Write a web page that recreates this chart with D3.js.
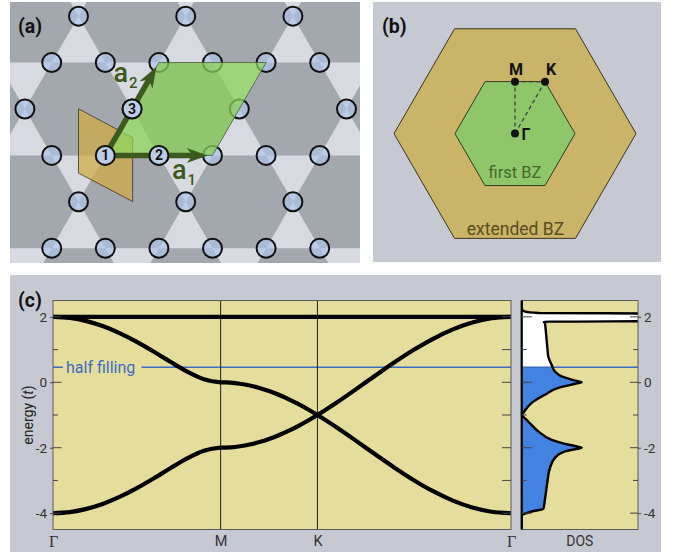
<!DOCTYPE html>
<html><head><meta charset="utf-8">
<script src="https://cdn.jsdelivr.net/npm/d3@7"></script>
<style>
body{margin:0;background:#fff;}
svg{display:block;font-family:Roboto,"DejaVu Sans",sans-serif;}
</style>
</head><body>
<svg id="fig" width="678" height="552"></svg>
<script>
// ---------------- DATA ----------------
// k-path for band structure (Γ–M–K–Γ), cumulative path length in units of |ΓK|
const kLabels = ["Γ", "M", "K", "Γ"];
const kPath = [0, 0.866, 1.366, 2.366];
// energies (t) sampled at 10 equal steps per segment along the path
const bandA = [2, 1.967, 1.870, 1.711, 1.497, 1.236, 0.940, 0.628, 0.328, 0.094, 0,
  -0.011, -0.044, -0.098, -0.173, -0.268, -0.382, -0.514, -0.662, -0.824, -1,
  -1.382, -1.791, -2.209, -2.618, -3, -3.338, -3.618, -3.827, -3.956, -4];
const bandB = [-4, -3.967, -3.870, -3.711, -3.497, -3.236, -2.940, -2.628, -2.328, -2.094, -2,
  -1.989, -1.956, -1.902, -1.827, -1.732, -1.618, -1.486, -1.338, -1.176, -1,
  -0.618, -0.209, 0.209, 0.618, 1, 1.338, 1.618, 1.827, 1.956, 2];
const flatBand = [2, 2, 2, 2];
const halfFilling = 0.46;
// density of states (arbitrary units, 1 = panel width)
const dosEnergy = [2.5, 2.3, 2.22, 2.16, 2.12, 2.10, 1.98, 1.87, 1.85, 1.80, 1.5, 1.0, 0.78, 0.53, 0.33, 0.18, 0.08, 0.025, 0.0, -0.025, -0.07, -0.17, -0.38, -0.63, -0.9, -0.97, -1.0, -1.03, -1.2, -1.5, -1.76, -1.88, -1.975, -2.0, -2.025, -2.11, -2.31, -2.62, -3.07, -3.58, -3.87, -3.95, -4.08, -4.5];
const dosValue  = [0, 0, 0.005, 0.03, 0.15, 1.3, 3, 1.3, 0.19, 0.2, 0.209, 0.222, 0.229, 0.258, 0.286, 0.344, 0.43, 0.49, 0.516, 0.49, 0.43, 0.315, 0.2, 0.086, 0.02, 0.006, 0, 0.008, 0.057, 0.143, 0.258, 0.372, 0.49, 0.516, 0.49, 0.372, 0.286, 0.243, 0.22, 0.2, 0.186, 0.086, 0, 0];
const yMajor = [-4, -2, 0, 2];
const yTickLabels = ["-4", "-2", "0", "2"];
const yMinor = [-3, -1, 1];
const siteNumbers = ["1", "2", "3"];
const bzLabels = ["M", "K", "Γ"];

// ---------------- FIGURE ----------------
const svg = d3.select("#fig");
const defs = svg.append("defs");

// ===== Panel (a): kagome lattice =====
const A = {x: 10, y: 2, w: 350, h: 261};
defs.append("clipPath").attr("id", "clipA").append("rect")
  .attr("x", A.x).attr("y", A.y).attr("width", A.w).attr("height", A.h);
const ga = svg.append("g").attr("clip-path", "url(#clipA)");
ga.append("rect").attr("x", A.x).attr("y", A.y).attr("width", A.w).attr("height", A.h).attr("fill", "#d7dae1");

const d = 53.6, s3 = Math.sqrt(3);
const o = [105.3, 155.4];
const a1 = [2 * d, 0], a2 = [d, -s3 * d];
const lat = [];
for (let i = -4; i <= 5; i++) for (let j = -3; j <= 4; j++)
  lat.push([o[0] + i * a1[0] + j * a2[0], o[1] + i * a1[1] + j * a2[1]]);
const hexPts = (c, r) => d3.range(6).map(k => [c[0] + r * Math.cos(k * Math.PI / 3), c[1] + r * Math.sin(k * Math.PI / 3)]);
const poly = pts => "M" + pts.map(p => p.join(",")).join("L") + "Z";
// dark hexagons of the kagome lattice
ga.selectAll("path.hex").data(lat.map(R => [R[0] + (a1[0] + a2[0]) / 2, R[1] + (a1[1] + a2[1]) / 2]))
  .join("path").attr("class", "hex").attr("d", c => poly(hexPts(c, d))).attr("fill", "#a3a7ae");
// lattice sites
const sites = [];
lat.forEach(R => {
  sites.push(R, [R[0] + a1[0] / 2, R[1] + a1[1] / 2], [R[0] + a2[0] / 2, R[1] + a2[1] / 2]);
});
ga.selectAll("circle.site").data(sites.filter(p => p[0] > -20 && p[0] < 380 && p[1] > -20 && p[1] < 290))
  .join("circle").attr("class", "site").attr("cx", p => p[0]).attr("cy", p => p[1]).attr("r", 9.5)
  .attr("fill", "#adc6ec").attr("fill-opacity", 0.66).attr("stroke", "#111").attr("stroke-width", 2);
// gold cell
const gold = [[-0.5, -0.87], [0.51, -0.33], [0.51, 0.86], [-0.5, 0.33]].map(v => [o[0] + v[0] * d, o[1] + v[1] * d]);
ga.append("path").attr("d", poly(gold)).attr("fill", "#d2aa40").attr("fill-opacity", 0.7)
  .attr("stroke", "#3a3520").attr("stroke-width", 0.8);
// green unit cell
const green = [o, [o[0] + a1[0], o[1]], [o[0] + a1[0] + a2[0], o[1] + a2[1]], [o[0] + a2[0], o[1] + a2[1]]];
ga.append("path").attr("d", poly(green)).attr("fill", "#8ad258").attr("fill-opacity", 0.74)
  .attr("stroke", "#4a5a3a").attr("stroke-width", 0.8);
// arrows
const arrowCol = "#3c5a1e";
function arrow(from, vec) {
  const f = 0.955;
  const tip = [from[0] + vec[0] * f, from[1] + vec[1] * f];
  const L = Math.hypot(vec[0], vec[1]);
  const u = [vec[0] / L, vec[1] / L], n = [-u[1], u[0]];
  const hl = 21, hw = 7.5, notch = 15;
  const base = [tip[0] - u[0] * notch, tip[1] - u[1] * notch];
  ga.append("line").attr("x1", from[0]).attr("y1", from[1]).attr("x2", base[0]).attr("y2", base[1])
    .attr("stroke", arrowCol).attr("stroke-width", 5.5);
  const back = [tip[0] - u[0] * hl, tip[1] - u[1] * hl];
  ga.append("path").attr("d", poly([tip, [back[0] + n[0] * hw, back[1] + n[1] * hw], base, [back[0] - n[0] * hw, back[1] - n[1] * hw]]))
    .attr("fill", arrowCol);
}
arrow(o, a1);
arrow(o, a2);
// numbered sites
const numbered = [o, [o[0] + a1[0] / 2, o[1]], [o[0] + a2[0] / 2, o[1] + a2[1] / 2]];
const gn = ga.selectAll("g.num").data(numbered).join("g").attr("class", "num")
  .attr("transform", p => `translate(${p[0]},${p[1]})`);
gn.append("circle").attr("r", 9.5).attr("fill", "#bccde6").attr("stroke", "#111").attr("stroke-width", 2);
gn.append("text").text((p, i) => siteNumbers[i]).attr("text-anchor", "middle").attr("dy", "0.36em")
  .attr("font-size", 14).attr("font-weight", 700).attr("fill", "#111");
// vector labels
function vecLabel(x, y, sub, ys) {
  ga.append("text").attr("x", x).attr("y", y).text("a").attr("font-size", 27).attr("font-weight", 500).attr("fill", arrowCol);
  ga.append("text").attr("x", x + 15.5).attr("y", y + ys).text(sub).attr("font-size", 15).attr("font-weight", 500).attr("fill", arrowCol);
}
vecLabel(113.5, 82, "2", 5.5);
vecLabel(172, 178.5, "1", 6.5);
svg.append("text").attr("x", 18).attr("y", 33).text("(a)").attr("font-size", 19.5).attr("font-weight", 700).attr("fill", "#111");

// ===== Panel (b): Brillouin zones =====
const B = {x: 373, y: 2, w: 288, h: 260};
svg.append("rect").attr("x", B.x).attr("y", B.y).attr("width", B.w).attr("height", B.h).attr("fill", "#c6c9d1");
const bc = [515, 133.6];
svg.append("path").attr("d", poly(hexPts(bc, 121))).attr("fill", "#cab468").attr("stroke", "#3b3520").attr("stroke-width", 1);
svg.append("path").attr("d", poly(hexPts(bc, 60))).attr("fill", "#8fc66a").attr("stroke", "#2f3a25").attr("stroke-width", 1);
const ptG = bc, ptM = [bc[0], bc[1] - 60 * s3 / 2], ptK = [bc[0] + 30, bc[1] - 60 * s3 / 2];
[[ptG, ptM], [ptG, ptK], [ptM, ptK]].forEach(([p, q]) => {
  svg.append("line").attr("x1", p[0]).attr("y1", p[1]).attr("x2", q[0]).attr("y2", q[1])
    .attr("stroke", "#3a3a3a").attr("stroke-width", 1.2).attr("stroke-dasharray", "4,3");
});
[ptG, ptM, ptK].forEach(p => svg.append("circle").attr("cx", p[0]).attr("cy", p[1]).attr("r", 4).attr("fill", "#111"));
svg.append("text").attr("x", ptM[0] + 1).attr("y", 75).attr("text-anchor", "middle").text(bzLabels[0]).attr("font-size", 16).attr("font-weight", 700).attr("fill", "#111");
svg.append("text").attr("x", ptK[0] + 6).attr("y", 75).attr("text-anchor", "middle").text(bzLabels[1]).attr("font-size", 16).attr("font-weight", 700).attr("fill", "#111");
svg.append("text").attr("x", ptG[0] + 6.5).attr("y", 140).text(bzLabels[2]).attr("font-size", 16).attr("font-weight", 700).attr("fill", "#111");
svg.append("text").attr("x", 515).attr("y", 177.5).attr("text-anchor", "middle").text("first BZ").attr("font-size", 16.5).attr("fill", "#466629");
svg.append("text").attr("x", 515.5).attr("y", 235).attr("text-anchor", "middle").text("extended BZ").attr("font-size", 17.5).attr("fill", "#5a4c22");
svg.append("text").attr("x", 382).attr("y", 33).text("(b)").attr("font-size", 19.5).attr("font-weight", 700).attr("fill", "#111");

// ===== Panel (c): band structure and DOS =====
const C = {x: 10, y: 275, w: 651, h: 277};
svg.append("rect").attr("x", C.x).attr("y", C.y).attr("width", C.w).attr("height", C.h).attr("fill", "#c6c9d1");
svg.append("text").attr("x", 18).attr("y", 307).text("(c)").attr("font-size", 19.5).attr("font-weight", 700).attr("fill", "#111");
const P = {l: 53, r: 511, t: 300.5, b: 529.5};
const D = {l: 521.7, r: 638};
const plotFill = "#e4dd9c", frameCol = "#5a5a5a", hfCol = "#3b6cc2";
const y = d3.scaleLinear().domain([-4.5, 2.5]).range([P.b, P.t]);
const x = d3.scaleLinear().domain([0, kPath[3]]).range([P.l, P.r]);
const xd = d3.scaleLinear().domain([0, 1]).range([D.l, D.r]);

defs.append("clipPath").attr("id", "clipBand").append("rect").attr("x", P.l).attr("y", P.t).attr("width", P.r - P.l).attr("height", P.b - P.t);
defs.append("clipPath").attr("id", "clipDos").append("rect").attr("x", D.l).attr("y", P.t).attr("width", D.r - D.l).attr("height", P.b - P.t);
defs.append("clipPath").attr("id", "clipDosHi").append("rect").attr("x", D.l).attr("y", P.t).attr("width", D.r - D.l).attr("height", y(halfFilling) - P.t);
defs.append("clipPath").attr("id", "clipDosLo").append("rect").attr("x", D.l).attr("y", y(halfFilling)).attr("width", D.r - D.l).attr("height", P.b - y(halfFilling));

// band plot
svg.append("rect").attr("x", P.l).attr("y", P.t).attr("width", P.r - P.l).attr("height", P.b - P.t).attr("fill", plotFill);
const gb = svg.append("g").attr("clip-path", "url(#clipBand)");
// half filling line with gap for label
gb.append("line").attr("x1", P.l).attr("x2", 63).attr("y1", y(halfFilling)).attr("y2", y(halfFilling)).attr("stroke", hfCol).attr("stroke-width", 1.5);
gb.append("line").attr("x1", 141.5).attr("x2", P.r).attr("y1", y(halfFilling)).attr("y2", y(halfFilling)).attr("stroke", hfCol).attr("stroke-width", 1.5);
// high symmetry lines
gb.selectAll("line.sym").data(kPath.slice(1, 3)).join("line").attr("class", "sym")
  .attr("x1", k => x(k)).attr("x2", k => x(k)).attr("y1", P.t).attr("y2", P.b).attr("stroke", "#222").attr("stroke-width", 1);
const kAt = i => { const s = Math.min(Math.floor(i / 10), 2); return kPath[s] + (i - s * 10) / 10 * (kPath[s + 1] - kPath[s]); };
const bandLine = d3.line().x((v, i) => x(kAt(i))).y(v => y(v)).curve(d3.curveMonotoneX);
gb.append("path").attr("d", d3.line().x((v, i) => x(kPath[i])).y(v => y(v))(flatBand)).attr("fill", "none").attr("stroke", "#000").attr("stroke-width", 4.2);
[bandA, bandB].forEach(b => gb.append("path").attr("d", bandLine(b)).attr("fill", "none").attr("stroke", "#000").attr("stroke-width", 4.2));
svg.append("rect").attr("x", P.l).attr("y", P.t).attr("width", P.r - P.l).attr("height", P.b - P.t).attr("fill", "none").attr("stroke", frameCol).attr("stroke-width", 1);
svg.append("text").attr("x", 66).attr("y", y(halfFilling)).attr("dy", "0.35em").text("half filling").attr("font-size", 16).attr("fill", hfCol);

// axes of band plot
const tickStyle = sel => sel.attr("stroke", "#444").attr("stroke-width", 1);
const axL = svg.append("g").attr("transform", `translate(${P.l},0)`)
  .call(d3.axisLeft(y).tickValues(yMajor).tickFormat((v, i) => yTickLabels[i]).tickSizeInner(3).tickSizeOuter(0).tickPadding(3));
axL.select(".domain").remove();
axL.selectAll("text").attr("font-size", 13.5).attr("font-family", "Roboto, sans-serif").attr("fill", "#333");
axL.selectAll(".tick line").attr("stroke", "#444");
yMajor.forEach(v => tickStyle(svg.append("line").attr("x1", P.l).attr("x2", P.l + 8.5).attr("y1", y(v)).attr("y2", y(v))));
yMinor.forEach(v => tickStyle(svg.append("line").attr("x1", P.l).attr("x2", P.l + 5).attr("y1", y(v)).attr("y2", y(v))));
yMajor.concat(yMinor).forEach(v => tickStyle(svg.append("line").attr("x1", P.r - 9).attr("x2", P.r).attr("y1", y(v)).attr("y2", y(v))));
const axB = svg.append("g").attr("transform", `translate(0,${P.b})`)
  .call(d3.axisBottom(x).tickValues(kPath).tickFormat((v, i) => kLabels[i]).tickSize(0).tickPadding(6));
axB.select(".domain").remove();
axB.selectAll("text").attr("fill", "#333")
  .attr("font-family", (v, i) => kLabels[i] === "Γ" ? "'Liberation Serif', serif" : "Roboto, sans-serif")
  .attr("font-size", (v, i) => kLabels[i] === "Γ" ? 16 : 14.5);
const yl = svg.append("text").attr("transform", `translate(33,${(P.t + P.b) / 2})rotate(-90)`).attr("text-anchor", "middle")
  .attr("font-size", 14).attr("fill", "#222");
yl.append("tspan").text("energy (");
yl.append("tspan").text("t").attr("font-style", "italic");
yl.append("tspan").text(")");

// DOS panel
svg.append("rect").attr("x", D.l).attr("y", P.t).attr("width", D.r - D.l).attr("height", P.b - P.t).attr("fill", plotFill);
const dosPts = dosEnergy.map((e, i) => [e, dosValue[i]]);
const dosArea = d3.area().y(p => y(p[0])).x0(xd(0)).x1(p => xd(p[1])).curve(d3.curveMonotoneY);
const dosLine = d3.line().y(p => y(p[0])).x(p => xd(p[1])).curve(d3.curveMonotoneY);
const gd = svg.append("g").attr("clip-path", "url(#clipDos)");
gd.append("g").attr("clip-path", "url(#clipDosHi)").append("path").attr("d", dosArea(dosPts)).attr("fill", "#ffffff");
gd.append("g").attr("clip-path", "url(#clipDosLo)").append("path").attr("d", dosArea(dosPts)).attr("fill", "#4282e0");
gd.append("line").attr("x1", D.l).attr("x2", D.r).attr("y1", y(halfFilling)).attr("y2", y(halfFilling)).attr("stroke", hfCol).attr("stroke-width", 1.5);
gd.append("path").attr("d", dosLine(dosPts)).attr("fill", "none").attr("stroke", "#000").attr("stroke-width", 2.4);
svg.append("rect").attr("x", D.l).attr("y", P.t).attr("width", D.r - D.l).attr("height", P.b - P.t).attr("fill", "none").attr("stroke", frameCol).attr("stroke-width", 1);
svg.append("line").attr("x1", D.l).attr("x2", D.l).attr("y1", P.t).attr("y2", P.b).attr("stroke", "#000").attr("stroke-width", 2.2);
yMajor.forEach(v => tickStyle(svg.append("line").attr("x1", D.l).attr("x2", D.l + 10).attr("y1", y(v)).attr("y2", y(v))));
yMinor.forEach(v => tickStyle(svg.append("line").attr("x1", D.l).attr("x2", D.l + 5).attr("y1", y(v)).attr("y2", y(v))));
yMinor.forEach(v => tickStyle(svg.append("line").attr("x1", D.r - 5).attr("x2", D.r).attr("y1", y(v)).attr("y2", y(v))));
yMajor.forEach(v => tickStyle(svg.append("line").attr("x1", D.r - 8).attr("x2", D.r).attr("y1", y(v)).attr("y2", y(v))));
const axR = svg.append("g").attr("transform", `translate(${D.r},0)`)
  .call(d3.axisRight(y).tickValues(yMajor).tickFormat((v, i) => yTickLabels[i]).tickSizeInner(3).tickSizeOuter(0).tickPadding(3));
axR.select(".domain").remove();
axR.selectAll("text").attr("font-size", 13.5).attr("font-family", "Roboto, sans-serif").attr("fill", "#333");
axR.selectAll(".tick line").attr("stroke", "#444");
svg.append("text").attr("x", (D.l + D.r) / 2).attr("y", 546).attr("text-anchor", "middle").text("DOS").attr("font-size", 14).attr("fill", "#333");
</script>
</body></html>
